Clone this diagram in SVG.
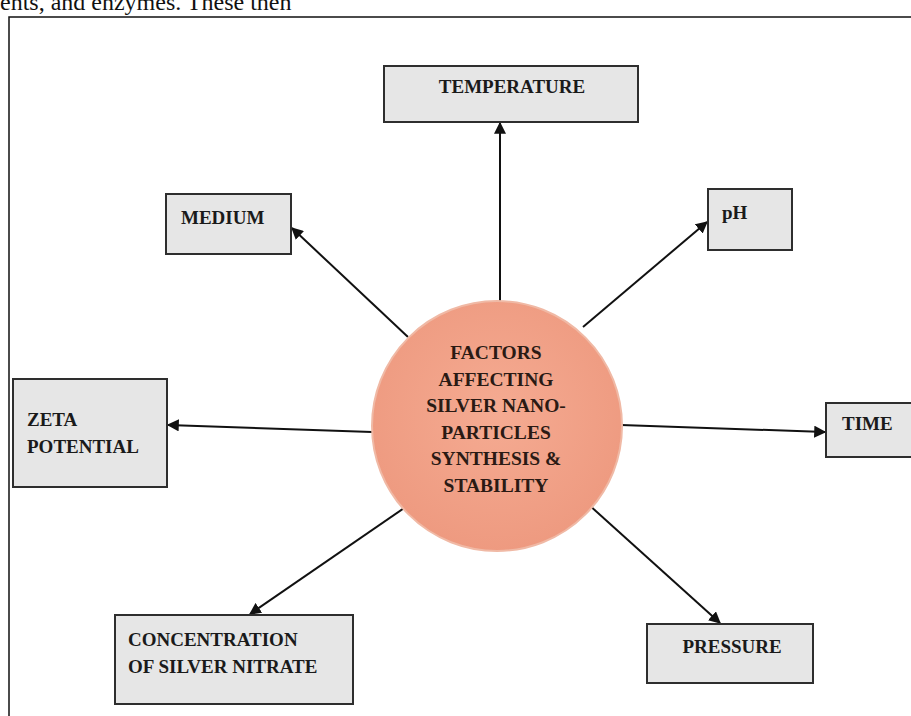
<svg xmlns="http://www.w3.org/2000/svg" width="911" height="716" viewBox="0 0 911 716">
<style>
.box{fill:#e6e6e6;stroke:#2e2e2e;stroke-width:2}
.t{font-family:"Liberation Serif","Times New Roman",serif;font-weight:bold;font-size:19px;fill:#1a1a1a}
.c{font-family:"Liberation Serif","Times New Roman",serif;font-weight:bold;font-size:19.5px;fill:#2a1a14;text-anchor:middle}
.ln{stroke:#111;stroke-width:2;fill:none;marker-end:url(#ah)}
</style>
<defs>
<marker id="ah" viewBox="0 0 10 10" refX="9" refY="5" markerWidth="6" markerHeight="6" orient="auto" markerUnits="strokeWidth">
<path d="M0,0 L10,5 L0,10 z" fill="#111"/>
</marker>
<radialGradient id="cg" cx="50%" cy="45%" r="55%">
<stop offset="0" stop-color="#f5ab92"/>
<stop offset="1" stop-color="#ee9a80"/>
</radialGradient>
</defs>
<rect width="911" height="716" fill="#fff"/>
<text x="0" y="10" font-family="Liberation Serif, serif" font-size="24" fill="#111">ents, and enzymes. These then</text>
<path d="M9,716 V17 H911" fill="none" stroke="#111" stroke-width="1.5"/>
<g id="connectors">
<line class="ln" x1="500" y1="302" x2="500" y2="123"/>
<line class="ln" x1="408" y1="337" x2="292" y2="228"/>
<line class="ln" x1="583" y1="327" x2="707" y2="222"/>
<line class="ln" x1="372" y1="432" x2="168" y2="425"/>
<line class="ln" x1="621" y1="425" x2="825" y2="432"/>
<line class="ln" x1="410" y1="504" x2="250" y2="614"/>
<line class="ln" x1="588" y1="504" x2="720" y2="623"/>
</g>
<g id="center">
<circle cx="497" cy="426" r="125" fill="url(#cg)" stroke="#f0b9a5" stroke-width="2"/>
<text class="c" x="496" y="359">FACTORS</text>
<text class="c" x="496" y="385.5">AFFECTING</text>
<text class="c" x="496" y="412">SILVER NANO-</text>
<text class="c" x="496" y="438.5">PARTICLES</text>
<text class="c" x="496" y="465">SYNTHESIS &amp;</text>
<text class="c" x="496" y="491.5">STABILITY</text>
</g>
<g id="temperature">
<rect class="box" x="384" y="66" width="254" height="56"/>
<text class="t" x="512" y="93" text-anchor="middle">TEMPERATURE</text>
</g>
<g id="medium">
<rect class="box" x="166" y="194" width="125" height="60"/>
<text class="t" x="181" y="224">MEDIUM</text>
</g>
<g id="ph">
<rect class="box" x="708" y="189" width="84" height="61"/>
<text class="t" x="722" y="219">pH</text>
</g>
<g id="zeta">
<rect class="box" x="13" y="379" width="154" height="108"/>
<text class="t" x="27" y="426">ZETA</text>
<text class="t" x="27" y="453">POTENTIAL</text>
</g>
<g id="time">
<rect class="box" x="826" y="403" width="90" height="54"/>
<text class="t" x="842" y="430">TIME</text>
</g>
<g id="concentration">
<rect class="box" x="115" y="615" width="238" height="89"/>
<text class="t" x="128" y="646">CONCENTRATION</text>
<text class="t" x="128" y="673">OF SILVER NITRATE</text>
</g>
<g id="pressure">
<rect class="box" x="647" y="624" width="166" height="59"/>
<text class="t" x="732" y="653" text-anchor="middle">PRESSURE</text>
</g>
</svg>
